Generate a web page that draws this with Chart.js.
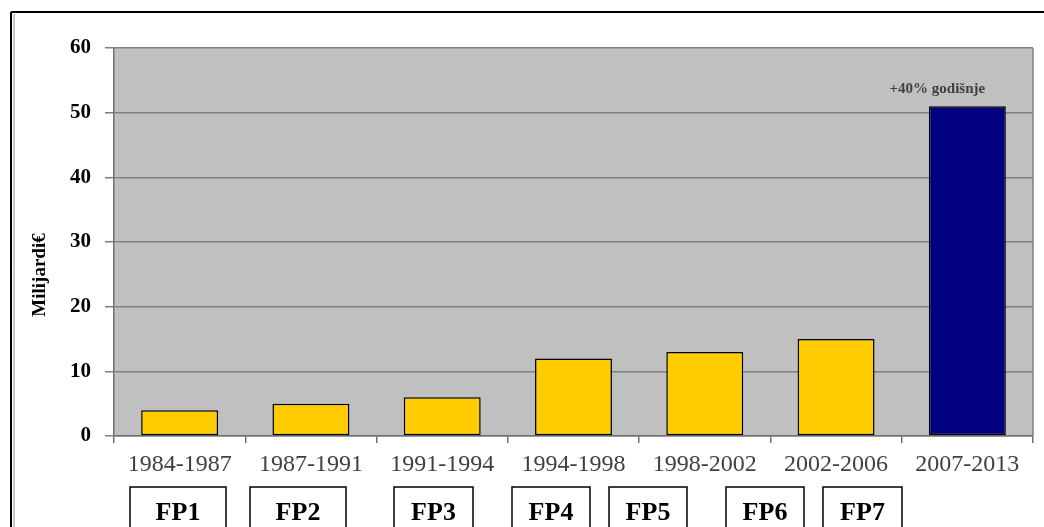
<!DOCTYPE html>
<html>
<head>
<meta charset="utf-8">
<script src="https://cdn.jsdelivr.net/npm/chart.js@4/dist/chart.umd.min.js"></script>
<style>
  html, body { margin: 0; padding: 0; background: #ffffff; }
  #wrap { width: 1044px; height: 527px; position: relative; }
</style>
</head>
<body>
<div id="wrap"><canvas id="c" width="1044" height="527"></canvas></div>
<script>
// ---- data ----
const periods = ['1984-1987', '1987-1991', '1991-1994', '1994-1998', '1998-2002', '2002-2006', '2007-2013'];
const budgets = [4, 5, 6, 12, 13, 15, 51];
const programmes = ['FP1', 'FP2', 'FP3', 'FP4', 'FP5', 'FP6', 'FP7'];
const yTicks = [0, 10, 20, 30, 40, 50, 60];
const yTitle = 'Milijardi€';
const note = '+40% godišnje';

// ---- layout (not data) ----
const boxLeft = [130, 250, 394, 512, 609, 726, 823];
const boxWidth = [96, 96, 79, 78, 78, 78, 79];

const barColors = budgets.map((v, i) => i === budgets.length - 1 ? '#000080' : '#FFCC00');

const decor = {
  id: 'decor',
  beforeDraw(chart) {
    const { ctx, chartArea: a } = chart;
    ctx.save();
    ctx.fillStyle = '#ffffff';
    ctx.fillRect(0, 0, chart.width, chart.height);
    ctx.fillStyle = '#C0C0C0';
    ctx.fillRect(a.left, a.top, a.right - a.left, a.bottom - a.top);
    ctx.restore();
  },
  afterDraw(chart) {
    const { ctx, chartArea: a, scales } = chart;
    ctx.save();
    // plot right border
    ctx.strokeStyle = '#808080';
    ctx.lineWidth = 1.5;
    ctx.beginPath();
    ctx.moveTo(a.right, a.top);
    ctx.lineTo(a.right, a.bottom);
    ctx.stroke();
    // outer frame
    ctx.strokeStyle = '#000000';
    ctx.lineWidth = 2;
    ctx.beginPath();
    ctx.moveTo(11, 12);
    ctx.lineTo(1044, 12);
    ctx.moveTo(11, 12);
    ctx.lineTo(11, 527);
    ctx.stroke();
    ctx.strokeStyle = '#909090';
    ctx.lineWidth = 1;
    ctx.beginPath();
    ctx.moveTo(14, 14);
    ctx.lineTo(14, 527);
    ctx.stroke();
    // y title
    ctx.fillStyle = '#000000';
    ctx.font = 'bold 19px "Liberation Serif", serif';
    ctx.textAlign = 'center';
    ctx.textBaseline = 'middle';
    ctx.translate(40, 275);
    ctx.rotate(-Math.PI / 2);
    ctx.fillText(yTitle, 0, 0);
    ctx.setTransform(1, 0, 0, 1, 0, 0);
    // note above last bar
    const last = budgets.length - 1;
    const nx = scales.x.getPixelForValue(last) - 30;
    const ny = scales.y.getPixelForValue(budgets[last]) - 17;
    ctx.fillStyle = '#404040';
    ctx.font = 'bold 15px "Liberation Serif", serif';
    ctx.fillText(note, nx, ny);
    // programme boxes
    ctx.lineWidth = 1.5;
    ctx.strokeStyle = '#000000';
    ctx.font = 'bold 26px "Liberation Serif", serif';
    for (let i = 0; i < programmes.length; i++) {
      ctx.strokeRect(boxLeft[i], 487, boxWidth[i], 60);
      ctx.fillStyle = '#000000';
      ctx.fillText(programmes[i], boxLeft[i] + boxWidth[i] / 2, 513);
    }
    ctx.restore();
  }
};

new Chart(document.getElementById('c'), {
  type: 'bar',
  data: {
    labels: periods,
    datasets: [{
      data: budgets,
      backgroundColor: barColors,
      borderColor: '#000000',
      borderWidth: 1.5,
      borderSkipped: false,
      barPercentage: 0.586,
      categoryPercentage: 1
    }]
  },
  options: {
    responsive: false,
    animation: false,
    devicePixelRatio: 1,
    layout: { padding: { top: 48, right: 11, left: 0, bottom: 0 } },
    plugins: { legend: { display: false }, tooltip: { enabled: false } },
    scales: {
      x: {
        afterFit(s) { s.height = 91; },
        grid: { display: true, drawOnChartArea: false, drawTicks: true, tickLength: 7, color: '#707070', lineWidth: 1.5, offset: true },
        border: { display: true, color: '#707070', width: 1.5 },
        ticks: { color: '#404040', padding: 7, maxRotation: 0, autoSkip: false,
                 font: { family: '"Liberation Serif", serif', size: 24 } }
      },
      y: {
        min: 0, max: 60,
        afterFit(s) { s.width = 114; },
        afterBuildTicks(s) { s.ticks = yTicks.map(v => ({ value: v })); },
        grid: { color: '#808080', lineWidth: 1.5, drawTicks: true, tickLength: 9 },
        border: { display: true, color: '#707070', width: 1.5 },
        ticks: { color: '#000000', padding: 14,
                 font: { family: '"Liberation Serif", serif', size: 21, weight: 'bold' } }
      }
    }
  },
  plugins: [decor]
});
</script>
</body>
</html>
